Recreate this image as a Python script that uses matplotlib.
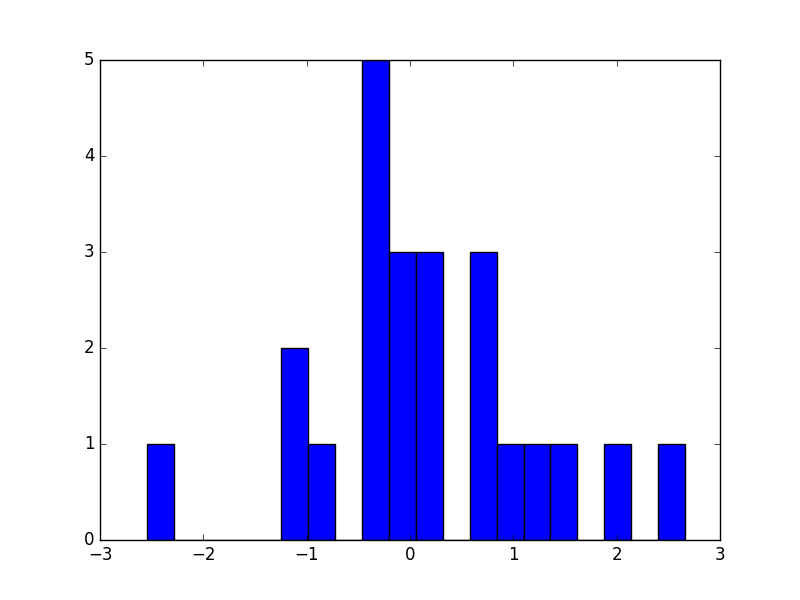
import numpy as np
from matplotlib import pyplot as plt

plt.style.use('classic')

# histogram: 20 bins between the min and max sample
x_min = -2.545
x_max = 2.66
counts = [1, 0, 0, 0, 0, 2, 1, 0, 5, 3, 3, 0, 3, 1, 1, 1, 0, 1, 0, 1]

edges = np.linspace(x_min, x_max, len(counts) + 1)
centers = (edges[:-1] + edges[1:]) / 2

fig = plt.figure(figsize=(8, 6), dpi=100)
ax = fig.add_subplot(111)
ax.hist(centers, bins=edges, weights=counts, color='b')
ax.set_xlim(-3, 3)
ax.set_ylim(0, 5)

fig.savefig('out.png', dpi=100)
